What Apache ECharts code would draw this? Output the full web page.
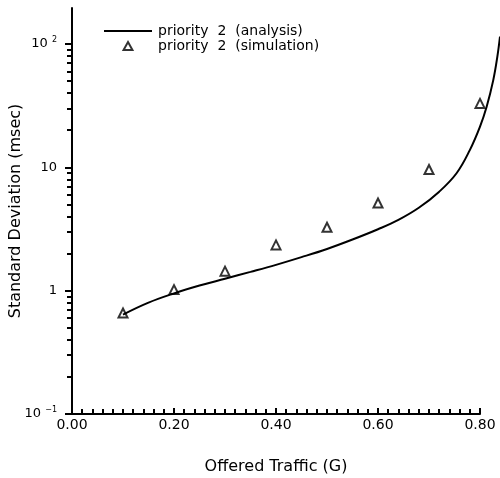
<!DOCTYPE html>
<html>
<head>
<meta charset="utf-8">
<script src="https://cdn.jsdelivr.net/npm/echarts@6/dist/echarts.min.js"></script>
<style>
  html, body { margin: 0; padding: 0; background: #fff; }
  #chart { width: 500px; height: 478px; }
</style>
</head>
<body>
<div id="chart"></div>
<script>
// analysis curve
const analysisX = [0.10, 0.15, 0.20, 0.25, 0.30, 0.35, 0.40, 0.45, 0.50, 0.55, 0.60, 0.64, 0.68, 0.72, 0.754, 0.78, 0.80, 0.813, 0.826, 0.834, 0.8392]
const analysisY = [0.64, 0.80, 0.95, 1.10, 1.25, 1.42, 1.62, 1.87, 2.18, 2.60, 3.15, 3.75, 4.70, 6.35, 8.96, 13.8, 21.4, 31, 51, 79, 115]

// simulation points
const simX = [0.1, 0.2, 0.3, 0.4, 0.5, 0.6, 0.7, 0.8]
const simY = [0.66, 1.02, 1.44, 2.35, 3.27, 5.14, 9.6, 33]

// y minor ticks 2..9 per decade
const yMinorTicks = [0.2, 0.3, 0.4, 0.5, 0.6, 0.7, 0.8, 0.9, 2, 3, 4, 5, 6, 7, 8, 9, 20, 30, 40, 50, 60, 70, 80, 90]

const font = 'DejaVu Sans'
const yMin = 0.1
const yMax = 196

const chart = echarts.init(document.getElementById('chart'))

const option = {
  animation: false,
  backgroundColor: '#fff',
  textStyle: { fontFamily: font, color: '#000' },
  grid: [
    { left: 72, right: 20, top: 8, bottom: 64, outerBoundsMode: 'none', containLabel: false },
    // same height, runs on to the right edge so the curve can pass 0.80
    { left: 72, right: 0, top: 8, bottom: 64, outerBoundsMode: 'none', containLabel: false }
  ],
  legend: {
    left: 104,
    top: 24,
    padding: 0,
    orient: 'vertical',
    itemWidth: 48,
    itemHeight: 8,
    itemGap: 1,
    symbolKeepAspect: true,
    textStyle: { fontFamily: font, fontSize: 14, lineHeight: 12, color: '#000', padding: [0, 0, 0, 1] },
    data: [
      { name: 'priority  2  (analysis)', icon: 'path://M0,0H48V2H0Z', itemStyle: { color: '#000' }, lineStyle: { color: '#000', width: 2 } },
      { name: 'priority  2  (simulation)', icon: 'path://M5,0L10,9H0Z' }
    ]
  },
  xAxis: [
    {
      type: 'value',
      gridIndex: 0,
      min: 0,
      max: 0.8,
      interval: 0.2,
      name: 'Offered Traffic (G)',
      nameLocation: 'middle',
      nameGap: 45,
      nameTextStyle: { fontFamily: font, fontSize: 16, color: '#000' },
      axisLine: { lineStyle: { color: '#000', width: 2 } },
      axisTick: { inside: true, length: 6, lineStyle: { color: '#000', width: 2 } },
      minorTick: { show: true, splitNumber: 10, length: 5, lineStyle: { color: '#000', width: 2 } },
      axisLabel: {
        fontFamily: font,
        fontSize: 14,
        color: '#000',
        margin: 4,
        formatter: (v) => v.toFixed(2)
      },
      splitLine: { show: false }
    },
    {
      type: 'value',
      gridIndex: 1,
      min: 0,
      max: 0.8392,
      show: false
    }
  ],
  yAxis: [
    {
      type: 'log',
      gridIndex: 0,
      logBase: 10,
      min: yMin,
      max: yMax,
      name: 'Standard Deviation (msec)',
      nameLocation: 'middle',
      nameGap: 48,
      nameMoveOverlap: false,
      nameTextStyle: { fontFamily: font, fontSize: 16, color: '#000' },
      axisLine: { show: true, lineStyle: { color: '#000', width: 2 } },
      axisTick: { inside: false, length: 7, lineStyle: { color: '#000', width: 2 } },
      axisLabel: {
        showMaxLabel: false,
        margin: 15,
        formatter: (v) => {
          const e = Math.round(Math.log10(v))
          if (e === 0) return '{b|1}'
          if (e === 1) return '{b|10}'
          return '{b|10 }{s|' + (e < 0 ? '\u2212' + Math.abs(e) : e) + '}'
        },
        rich: {
          b: { fontFamily: font, fontSize: 13, color: '#000' },
          s: { fontFamily: font, fontSize: 8, color: '#000', verticalAlign: 'top', padding: [0, 0, 8, 0] }
        }
      },
      splitLine: { show: false }
    },
    {
      // minor ticks 2..9 of every decade
      type: 'log',
      gridIndex: 0,
      logBase: 10,
      min: yMin,
      max: yMax,
      position: 'left',
      axisLine: { show: false },
      axisTick: { show: true, inside: false, length: 5, customValues: yMinorTicks, lineStyle: { color: '#000', width: 2 } },
      axisLabel: { show: false },
      splitLine: { show: false }
    },
    {
      type: 'log',
      gridIndex: 1,
      logBase: 10,
      min: yMin,
      max: yMax,
      show: false
    }
  ],
  series: [
    {
      name: 'priority  2  (analysis)',
      type: 'line',
      xAxisIndex: 1,
      yAxisIndex: 2,
      data: analysisX.map((x, i) => [x, analysisY[i]]),
      smooth: 0.4,
      symbol: 'none',
      lineStyle: { color: '#000', width: 2 },
      itemStyle: { color: '#000' }
    },
    {
      name: 'priority  2  (simulation)',
      type: 'scatter',
      data: simX.map((x, i) => [x, simY[i]]),
      symbol: 'triangle',
      symbolSize: 9,
      itemStyle: { color: '#fff', borderColor: '#000', borderWidth: 2 }
    }
  ]
}

chart.setOption(option)
</script>
</body>
</html>
